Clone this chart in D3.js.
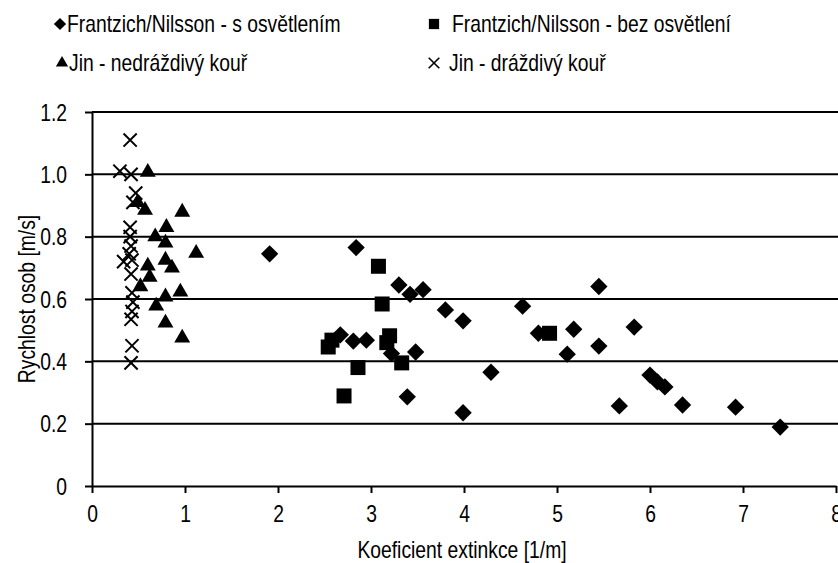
<!DOCTYPE html>
<html>
<head>
<meta charset="utf-8">
<script src="https://cdn.jsdelivr.net/npm/d3@7"></script>
<style>
  body { margin: 0; background: #fff; }
  text { font-family: "Liberation Sans", Arial, sans-serif; fill: #000; }
</style>
</head>
<body>
<svg id="chart" width="838" height="563"></svg>
<script>
// Frantzich/Nilsson – with lighting
const litX = [1.91, 2.84, 3.30, 3.42, 3.56, 3.80, 3.99, 4.63, 5.45, 4.80, 5.18, 5.11, 5.45, 5.83,
              2.67, 2.81, 2.95, 3.22, 3.48, 3.39, 4.29, 3.99, 5.67, 6.00, 6.08, 6.16, 6.35, 6.92, 7.40];
const litY = [0.745, 0.765, 0.645, 0.615, 0.63, 0.565, 0.53, 0.577, 0.64, 0.49, 0.503, 0.423, 0.449, 0.51,
              0.485, 0.465, 0.468, 0.425, 0.43, 0.286, 0.365, 0.235, 0.257, 0.356, 0.334, 0.318, 0.26, 0.253, 0.189];

// Frantzich/Nilsson – without lighting
const darkX = [3.08, 3.12, 2.54, 2.58, 3.17, 3.20, 3.33, 2.86, 2.71, 4.92];
const darkY = [0.705, 0.584, 0.446, 0.468, 0.46, 0.482, 0.395, 0.38, 0.289, 0.49];

// Jin – non-irritant smoke
const jinNX = [0.60, 0.49, 0.57, 0.97, 0.80, 0.68, 0.79, 1.12, 0.60, 0.79, 0.86, 0.62, 0.52, 0.69, 0.79, 0.95, 0.79, 0.97];
const jinNY = [1.007, 0.91, 0.885, 0.879, 0.83, 0.80, 0.78, 0.747, 0.706, 0.725, 0.70, 0.67, 0.64, 0.578, 0.607, 0.623, 0.523, 0.475];

// Jin – irritant smoke
const jinIX = [0.41, 0.30, 0.42, 0.47, 0.44, 0.41, 0.41, 0.42, 0.40, 0.34, 0.43, 0.42, 0.43, 0.44, 0.43, 0.42, 0.43, 0.42];
const jinIY = [1.11, 1.01, 1.00, 0.94, 0.91, 0.83, 0.80, 0.77, 0.745, 0.72, 0.725, 0.68, 0.62, 0.59, 0.56, 0.535, 0.45, 0.395];

const seriesNames = ["Frantzich/Nilsson - s osvětlením", "Frantzich/Nilsson - bez osvětlení",
                     "Jin - nedráždivý kouř", "Jin - dráždivý kouř"];
const xTicks = [0, 1, 2, 3, 4, 5, 6, 7, 8];
const yTicks = [0, 0.2, 0.4, 0.6, 0.8, 1.0, 1.2];
const xTitle = "Koeficient extinkce [1/m]";
const yTitle = "Rychlost osob [m/s]";

const FS = 23;      // font size
const SX = 0.84;    // horizontal condensing of all text

const svg = d3.select("#chart");
const m = { left: 92, top: 112, right: 2, bottom: 77 };
const W = 838 - m.left - m.right;   // 744
const H = 563 - m.top - m.bottom;   // 374

const x = d3.scaleLinear().domain([0, 8]).range([0, W]);
const y = d3.scaleLinear().domain([0, 1.2]).range([H, 0]);

const g = svg.append("g").attr("transform", `translate(${m.left},${m.top})`);

// horizontal gridlines
g.append("g").selectAll("line").data(yTicks.filter(d => d > 0)).join("line")
  .attr("x1", 0).attr("x2", W + 2)
  .attr("y1", d => y(d)).attr("y2", d => y(d))
  .attr("stroke", "#000").attr("stroke-width", 2);

// y axis
const yAxis = g.append("g")
  .call(d3.axisLeft(y).tickValues(yTicks).tickSize(7).tickSizeOuter(0)
        .tickFormat(d => d === 0 ? "0" : d3.format(".1f")(d)));
yAxis.select(".domain").attr("stroke-width", 2);
yAxis.selectAll(".tick line").attr("stroke-width", 2);
yAxis.selectAll(".tick text")
  .attr("font-size", FS).attr("font-family", null)
  .attr("x", -25 / SX).attr("dy", "0.36em")
  .attr("transform", `scale(${SX},1)`);

// x axis
const xAxis = g.append("g").attr("transform", `translate(0,${H})`)
  .call(d3.axisBottom(x).tickValues(xTicks).tickSize(7).tickSizeOuter(0).tickFormat(d3.format("d")));
xAxis.select(".domain").attr("stroke-width", 2);
xAxis.selectAll(".tick line").attr("stroke-width", 2);
xAxis.selectAll(".tick text")
  .attr("font-size", FS).attr("font-family", null)
  .attr("y", 36).attr("dy", 0)
  .attr("transform", `scale(${SX},1)`);

// axis titles
svg.append("text")
  .attr("transform", `translate(${m.left + W / 2 - 2},558) scale(${SX},1)`)
  .attr("text-anchor", "middle").attr("font-size", FS).text(xTitle);
svg.append("text")
  .attr("transform", `translate(35,${m.top + H / 2}) rotate(-90) scale(${SX},1)`)
  .attr("text-anchor", "middle").attr("font-size", FS).text(yTitle);

// marker generators
const diamond = s => d3.symbol(d3.symbolSquare, s)();
const square = s => d3.symbol(d3.symbolSquare, s)();
const triangle = s => d3.symbol(d3.symbolTriangle, s)();
const cross = s => d3.symbol(d3.symbolX, s)();

const zip = (xs, ys) => xs.map((v, i) => [v, ys[i]]);
const marks = g.append("g");

function drawSeries(data, path, rot, stroke) {
  marks.append("g").selectAll("path").data(data).join("path")
    .attr("d", path)
    .attr("transform", d => `translate(${x(d[0])},${y(d[1])}) rotate(${rot})`)
    .attr("fill", stroke ? "none" : "#000")
    .attr("stroke", stroke ? "#000" : "none")
    .attr("stroke-width", stroke ? 2 : 0);
}

drawSeries(zip(litX, litY), diamond(150), 45, false);
drawSeries(zip(darkX, darkY), square(225), 0, false);
drawSeries(zip(jinNX, jinNY), triangle(110), 0, false);
drawSeries(zip(jinIX, jinIY), cross(115), 0, true);

// legend
const legendItems = [
  { name: seriesNames[0], mx: 60, my: 24, tx: 67, path: diamond(75), rot: 45, stroke: false },
  { name: seriesNames[1], mx: 434, my: 24, tx: 452, path: square(105), rot: 0, stroke: false },
  { name: seriesNames[2], mx: 62, my: 63, tx: 69, path: triangle(65), rot: 0, stroke: false },
  { name: seriesNames[3], mx: 434, my: 63, tx: 449, path: cross(75), rot: 0, stroke: true }
];
const lg = svg.append("g").selectAll("g").data(legendItems).join("g");
lg.append("path")
  .attr("d", d => d.path)
  .attr("transform", d => `translate(${d.mx},${d.my}) rotate(${d.rot})`)
  .attr("fill", d => d.stroke ? "none" : "#000")
  .attr("stroke", d => d.stroke ? "#000" : "none")
  .attr("stroke-width", d => d.stroke ? 1.6 : 0);
lg.append("text")
  .attr("transform", d => `translate(${d.tx},${d.my + 8}) scale(${SX},1)`)
  .attr("font-size", FS).text(d => d.name);
</script>
</body>
</html>
